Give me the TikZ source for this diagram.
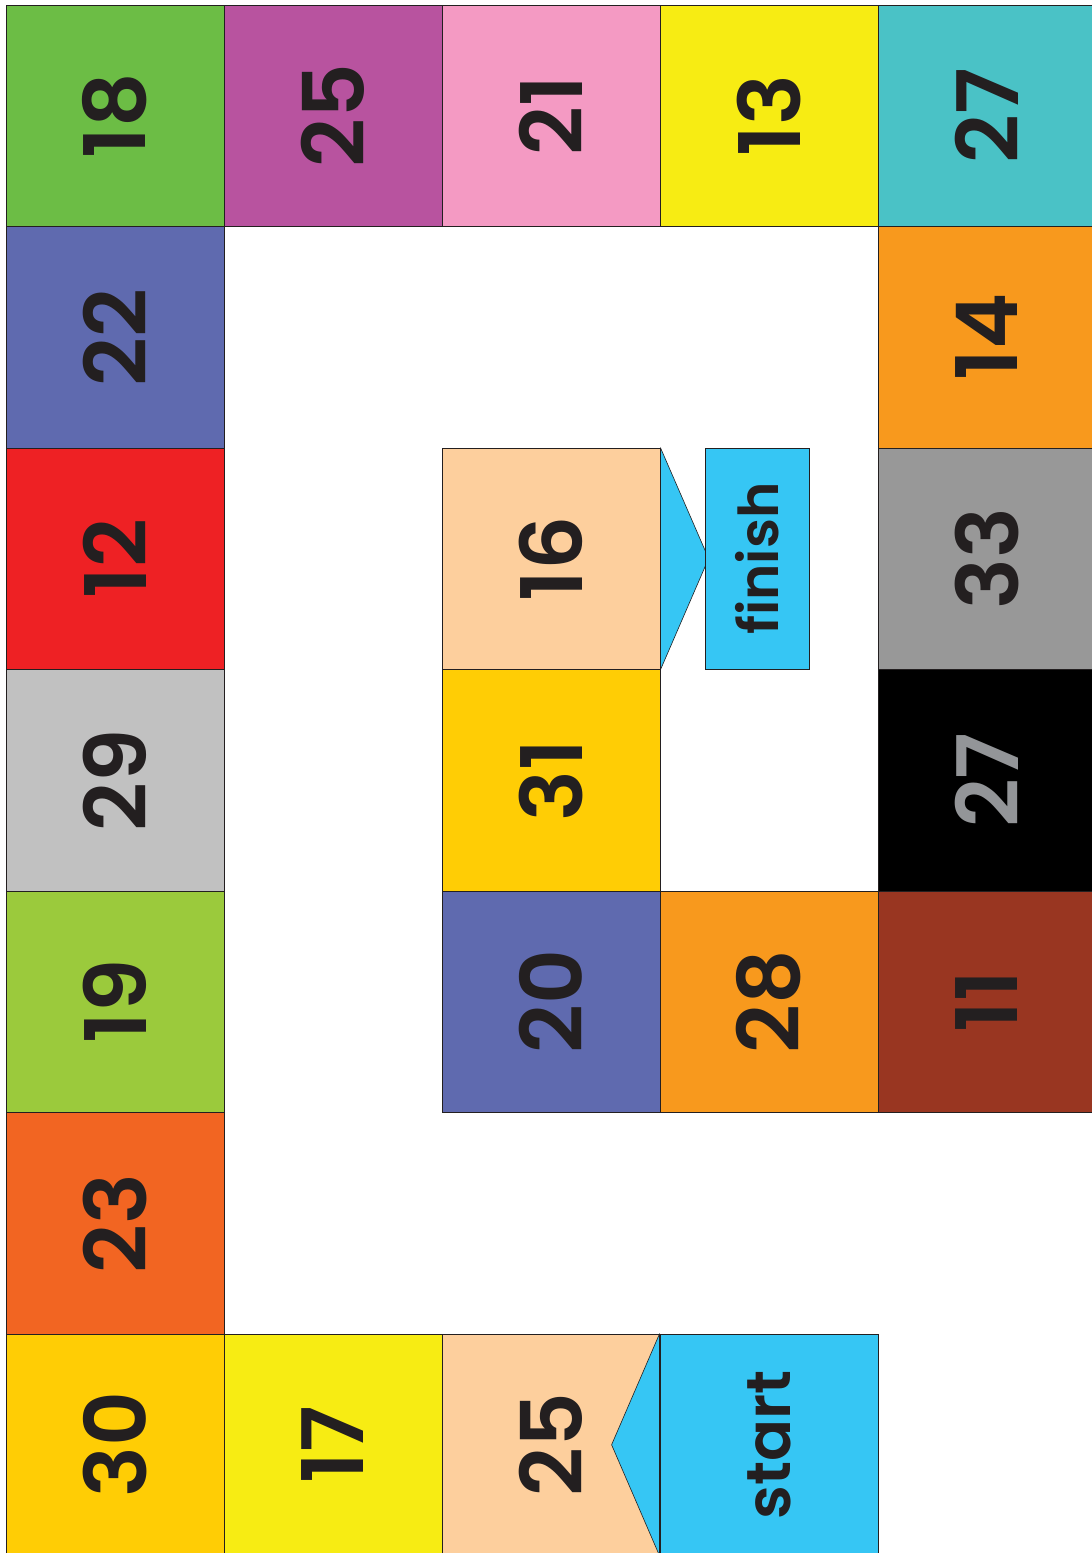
\documentclass[tikz,border=0pt]{standalone}
\usepackage{fontspec}
\setmainfont{Poppins}[BoldFont={Poppins SemiBold}]
\usetikzlibrary{backgrounds}

\definecolor{ink}{HTML}{231F20}
\definecolor{edge}{HTML}{231F20}
\definecolor{cgreen}{HTML}{6CBD45}
\definecolor{cpurple}{HTML}{B8539F}
\definecolor{cpink}{HTML}{F49AC3}
\definecolor{cyellow}{HTML}{F7EC13}
\definecolor{cteal}{HTML}{4AC2C6}
\definecolor{cblue}{HTML}{5F6AAF}
\definecolor{cred}{HTML}{EE2124}
\definecolor{csilver}{HTML}{C1C1C1}
\definecolor{clime}{HTML}{9BCA3C}
\definecolor{cblood}{HTML}{F26522}
\definecolor{cgold}{HTML}{FFCD05}
\definecolor{cpeach}{HTML}{FDCF9D}
\definecolor{csky}{HTML}{36C6F4}
\definecolor{corange}{HTML}{F8991D}
\definecolor{cgray}{HTML}{989898}
\definecolor{cbrown}{HTML}{993621}
\definecolor{numgray}{HTML}{939598}

\begin{document}
\begin{tikzpicture}[x=1pt,y=-1pt,
	cell/.style={draw=edge,line width=0.8pt,minimum width=218pt,minimum height=221.5pt,
		inner sep=0pt,text=ink,font=\fontsize{85}{85}\selectfont\bfseries},
	flag/.style={draw=edge,line width=0.8pt,fill=csky,inner sep=0pt,text=ink}]
	
	\useasboundingbox (0,0) rectangle (1092,1553);
	
	% board squares: column/row/number/fill/text
	\foreach \c/\r/\lbl/\col/\txt in {
		0/0/18/cgreen/ink, 1/0/25/cpurple/ink, 2/0/21/cpink/ink, 3/0/13/cyellow/ink, 4/0/27/cteal/ink,
		0/1/22/cblue/ink, 0/2/12/cred/ink, 0/3/29/csilver/ink, 0/4/19/clime/ink, 0/5/23/cblood/ink,
		0/6/30/cgold/ink, 1/6/17/cyellow/ink, 2/6/25/cpeach/ink,
		4/1/14/corange/ink, 4/2/33/cgray/ink, 4/3/27/black/numgray, 4/4/11/cbrown/ink,
		3/4/28/corange/ink, 2/4/20/cblue/ink, 2/3/31/cgold/ink, 2/2/16/cpeach/ink}
		\node[cell,fill=\col,text=\txt] (s\c\r) at (115+218*\c,115.75+221.5*\r) {\rotatebox{90}{\lbl}};
	
	% start and finish
	\node[cell,fill=csky,font=\fontsize{62}{62}\selectfont\bfseries] (start) at (769,1444.75) {\rotatebox{90}{start}};
	\node[flag,minimum width=104pt,minimum height=221pt,font=\fontsize{55}{55}\selectfont\bfseries] (finish) at (757,558.5) {\rotatebox{90}{finish}};
	
	% arrow points
	\draw[line width=0.6pt,draw=edge,fill=csky] (start.north west) -- ([xshift=-48pt]start.west) -- (start.south west);
	\draw[line width=0.8pt,draw=edge] (start.north west) -- (start.south west);
	\begin{scope}[on background layer]
		\draw[line width=0.6pt,draw=edge,fill=csky] (s22.north east) -- ([xshift=4pt]finish.west) -- (s22.south east);
	\end{scope}
	
\end{tikzpicture}
\end{document}
